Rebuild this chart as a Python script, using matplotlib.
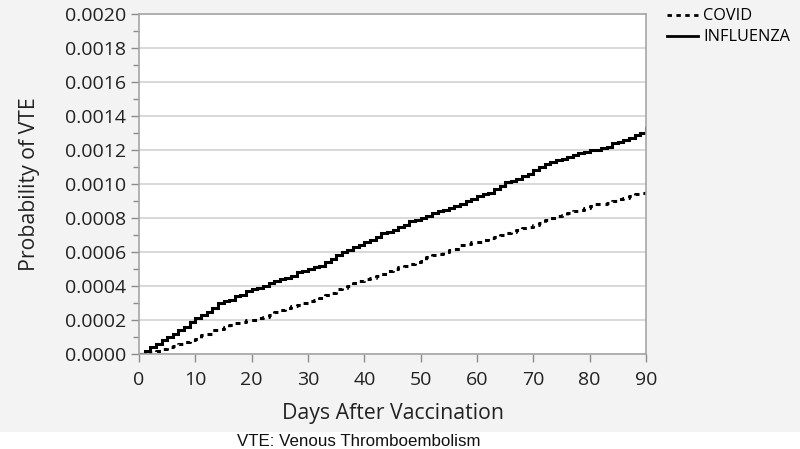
import numpy as np
import matplotlib.pyplot as plt
from matplotlib.patches import Rectangle
from matplotlib.ticker import MultipleLocator, FormatStrFormatter
from matplotlib.lines import Line2D

# cumulative probability of VTE, one value per day 0..90
days = list(range(0, 91))
influenza = [
    0.00000, 0.00002, 0.00004, 0.00006, 0.00008, 0.00010, 0.00012, 0.00014, 0.00016, 0.00019,
    0.00021, 0.00023, 0.00025, 0.00027, 0.00030, 0.00031, 0.00032, 0.00034, 0.00035, 0.00037,
    0.00038, 0.00039, 0.00040, 0.00042, 0.00043, 0.00044, 0.00045, 0.00046, 0.00048, 0.00049,
    0.00050, 0.00051, 0.00052, 0.00054, 0.00056, 0.00058, 0.00060, 0.00061, 0.00063, 0.00064,
    0.00066, 0.00067, 0.00069, 0.00071, 0.00072, 0.00073, 0.00075, 0.00076, 0.00078, 0.00079,
    0.00080, 0.00081, 0.00083, 0.00084, 0.00085, 0.00086, 0.00087, 0.00088, 0.00090, 0.00091,
    0.00093, 0.00094, 0.00095, 0.00097, 0.00099, 0.00101, 0.00102, 0.00103, 0.00105, 0.00106,
    0.00108, 0.00110, 0.00112, 0.00113, 0.00114, 0.00115, 0.00116, 0.00117, 0.00118, 0.00119,
    0.00120, 0.00120, 0.00121, 0.00122, 0.00124, 0.00125, 0.00126, 0.00127, 0.00129, 0.00130,
    0.00133,
]
covid = [
    0.00000, 0.00000, 0.00001, 0.00002, 0.00003, 0.00004, 0.00005, 0.00006, 0.00007, 0.00008,
    0.00009, 0.00011, 0.00012, 0.00014, 0.00015, 0.00016, 0.00017, 0.00018, 0.00019, 0.00020,
    0.00020, 0.00021, 0.00022, 0.00023, 0.00025, 0.00026, 0.00027, 0.00028, 0.00029, 0.00030,
    0.00031, 0.00032, 0.00033, 0.00035, 0.00036, 0.00038, 0.00039, 0.00040, 0.00042, 0.00043,
    0.00044, 0.00045, 0.00046, 0.00047, 0.00049, 0.00050, 0.00051, 0.00052, 0.00053, 0.00054,
    0.00055, 0.00057, 0.00058, 0.00059, 0.00060, 0.00061, 0.00062, 0.00064, 0.00065, 0.00066,
    0.00066, 0.00067, 0.00068, 0.00069, 0.00070, 0.00071, 0.00072, 0.00073, 0.00074, 0.00075,
    0.00076, 0.00077, 0.00079, 0.00080, 0.00081, 0.00082, 0.00083, 0.00084, 0.00085, 0.00086,
    0.00087, 0.00088, 0.00088, 0.00089, 0.00090, 0.00091, 0.00092, 0.00093, 0.00094, 0.00095,
    0.00097,
]

plt.rcParams['font.family'] = ['Open Sans', 'DejaVu Sans']

fig = plt.figure(figsize=(8, 4.49), dpi=100, facecolor='white')
# light gray panel behind the plot (caption strip stays white)
fig.patches.append(Rectangle((0, 17 / 449), 1, 1, transform=fig.transFigure,
                             facecolor='#f3f3f3', edgecolor='none', zorder=-10))

ax = fig.add_axes([139 / 800, 1 - 354 / 449, 507 / 800, 340 / 449])
ax.set_facecolor('white')

ax.plot(days, influenza, drawstyle='steps-post', color='black', lw=2.2, solid_joinstyle='miter')
ax.plot(days, covid, drawstyle='steps-post', color='black', lw=2.2, linestyle=(0, (1.6, 1.6)))

ax.set_xlim(0, 90)
ax.set_ylim(0, 0.002)
ax.xaxis.set_major_locator(MultipleLocator(10))
ax.yaxis.set_major_locator(MultipleLocator(0.0002))
ax.yaxis.set_minor_locator(MultipleLocator(0.0001))
ax.yaxis.set_major_formatter(FormatStrFormatter('%.4f'))

ax.grid(axis='y', which='major', color='#d6d6d6', lw=1.3)
ax.set_axisbelow(True)
for s in ax.spines.values():
    s.set_color('#a6a6a6')
    s.set_linewidth(1.2)

ax.tick_params(axis='both', which='major', length=6, width=1, color='#8c8c8c',
               labelsize=14, labelcolor='#222222', pad=3)
ax.tick_params(axis='y', which='minor', length=4, width=1, color='#8c8c8c')
ax.tick_params(axis='x', pad=6)

ax.set_xlabel('Days After Vaccination', fontsize=15.3, color='#222222', labelpad=10)
ax.set_ylabel('Probability of VTE', fontsize=15.3, color='#222222', labelpad=18)

handles = [Line2D([], [], color='black', lw=2, linestyle=(0, (1.6, 1.6))),
           Line2D([], [], color='black', lw=2)]
fig.legend(handles, ['COVID', 'INFLUENZA'], loc='upper left', bbox_to_anchor=(664 / 800, 1 - 5 / 449),
           frameon=False, fontsize=11.7, handlelength=1.9, handletextpad=0.3,
           labelspacing=0.32, borderaxespad=0, borderpad=0.2)

fig.text(0.449, 1 - 441 / 449, 'VTE: Venous Thromboembolism', ha='center', va='center',
         fontsize=12.2, family=['Liberation Sans', 'DejaVu Sans'], color='#111111')

fig.savefig('out.png', dpi=100, facecolor=fig.get_facecolor())
